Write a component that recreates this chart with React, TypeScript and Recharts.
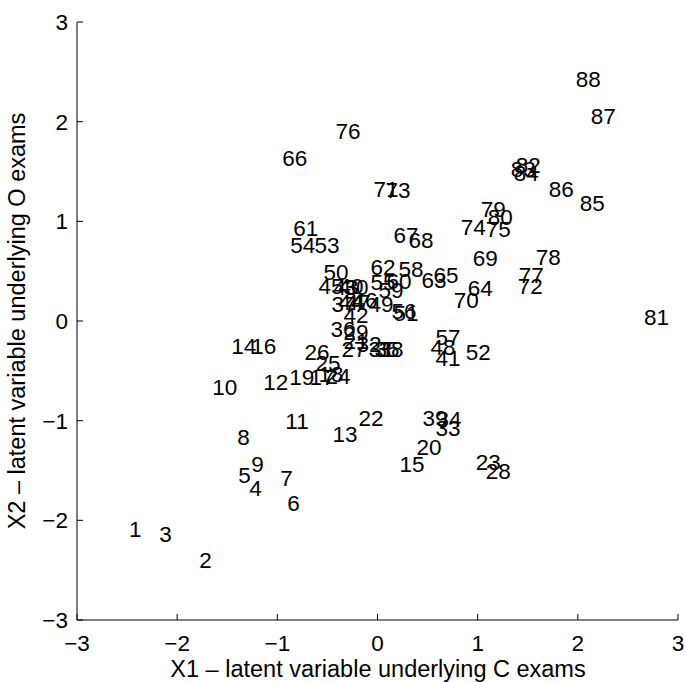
import React from "react"
import { ScatterChart, Scatter, XAxis, YAxis } from "recharts"

// student index and position on the two latent variables
const ids = [
  1, 2, 3, 4, 5, 6, 7, 8, 9, 10, 11, 12, 13, 14, 15, 16, 17, 18, 19, 20, 21, 22,
  23, 24, 25, 26, 27, 28, 29, 30, 31, 32, 33, 34, 35, 36, 37, 38, 39, 40, 41, 42, 43, 44,
  45, 46, 47, 48, 49, 50, 51, 52, 53, 54, 55, 56, 57, 58, 59, 60, 61, 62, 63, 64, 65, 66,
  67, 68, 69, 70, 71, 72, 73, 74, 75, 76, 77, 78, 79, 80, 81, 82, 83, 84, 85, 86, 87, 88,
]
const x1 = [
  -2.48, -1.78, -2.18, -1.28, -1.39, -0.9, -0.97, -1.4, -1.26, -1.65, -0.92, -1.14, -0.45, -1.46, 0.22, -1.26, -0.68, -0.59, -0.88, 0.39, -0.34, -0.19,
  0.98, -0.52, -0.62, -0.73, -0.36, 1.08, -0.34, -0.34, -0.09, -0.21, 0.58, 0.59, -0.03, -0.47, -0.46, 0.01, 0.45, -0.39, 0.58, -0.34, -0.44, -0.39,
  -0.59, -0.25, -0.32, 0.53, -0.09, -0.54, 0.16, 0.88, -0.63, -0.87, -0.07, 0.14, 0.58, 0.21, 0.01, 0.09, -0.84, -0.07, 0.44, 0.9, 0.56, -0.95,
  0.16, 0.31, 0.95, 0.76, -0.04, 1.4, 0.08, 0.83, 1.08, -0.42, 1.41, 1.58, 1.03, 1.1, 2.66, 1.38, 1.33, 1.36, 2.02, 1.71, 2.13, 1.98,
]
const x2 = [
  -2.09, -2.4, -2.14, -1.68, -1.55, -1.83, -1.58, -1.17, -1.44, -0.66, -1.0, -0.61, -1.14, -0.25, -1.44, -0.25, -0.56, -0.53, -0.56, -1.27, -0.2, -0.97,
  -1.42, -0.55, -0.42, -0.31, -0.28, -1.51, -0.11, 0.34, -0.28, -0.23, -1.07, -0.98, -0.28, -0.08, 0.17, -0.28, -0.97, 0.35, -0.37, 0.06, 0.34, 0.19,
  0.35, 0.21, 0.19, -0.26, 0.17, 0.49, 0.08, -0.31, 0.76, 0.76, 0.39, 0.1, -0.16, 0.52, 0.31, 0.4, 0.93, 0.54, 0.41, 0.33, 0.46, 1.63,
  0.86, 0.81, 0.63, 0.21, 1.32, 0.35, 1.31, 0.94, 0.92, 1.91, 0.46, 0.64, 1.12, 1.04, 0.04, 1.56, 1.52, 1.48, 1.18, 1.32, 2.06, 2.43,
]
const axisTicks = [-3, -2, -1, 0, 1, 2, 3]

const font = "'Liberation Sans', Arial, Helvetica, sans-serif"
const fs = 22.5

const fmt = (v: number) => (v < 0 ? "\u2212" + Math.abs(v) : String(v))

const XTick = (p: any) => (
  <g>
    <line x1={p.x} y1={p.y} x2={p.x} y2={p.y - 6} stroke="#000" />
    <text x={p.x} y={p.y + 23} dy="0.35em" textAnchor="middle" fontFamily={font} fontSize={fs} fill="#000">
      {fmt(p.payload.value)}
    </text>
  </g>
)

const YTick = (p: any) => (
  <g>
    <line x1={p.x} y1={p.y} x2={p.x + 6} y2={p.y} stroke="#000" />
    <text x={p.x - 9} y={p.y} dy="0.35em" textAnchor="end" fontFamily={font} fontSize={fs} fill="#000">
      {fmt(p.payload.value)}
    </text>
  </g>
)

const XTitle = () => (
  <text x={378} y={669} textAnchor="middle" fontFamily={font} fontSize={23.5} fill="#000">
    X1 – latent variable underlying C exams
  </text>
)

const YTitle = () => (
  <text transform="rotate(-90)" x={-313} y={25} textAnchor="middle" fontFamily={font} fontSize={23.5} fill="#000">
    X2 – latent variable underlying O exams
  </text>
)

const NumberMark = (p: any) => (
  <text x={p.cx} y={p.cy} dy="0.35em" fontFamily={font} fontSize={fs} fill="#000">
    {p.payload.id}
  </text>
)

export default function App() {
  const data = ids.map((id, i) => ({ id, x: x1[i], y: x2[i] }))

  return (
    <div style={{ position: "absolute", left: 0, top: 8, width: 685, height: 674 }}>
      <ScatterChart width={685} height={674} margin={{ top: 14, right: 7, bottom: 0, left: 8 }}>
        <XAxis
          type="number"
          dataKey="x"
          domain={[-3, 3]}
          ticks={axisTicks}
          height={62}
          tickSize={0}
          tickMargin={0}
          tickLine={false}
          tick={<XTick />}
          axisLine={{ stroke: "#000" }}
          label={<XTitle />}
        />
        <YAxis
          type="number"
          dataKey="y"
          domain={[-3, 3]}
          ticks={axisTicks}
          width={69}
          tickSize={0}
          tickMargin={0}
          tickLine={false}
          tick={<YTick />}
          axisLine={{ stroke: "#000" }}
          label={<YTitle />}
        />
        <Scatter data={data} shape={<NumberMark />} isAnimationActive={false} />
      </ScatterChart>
    </div>
  )
}
